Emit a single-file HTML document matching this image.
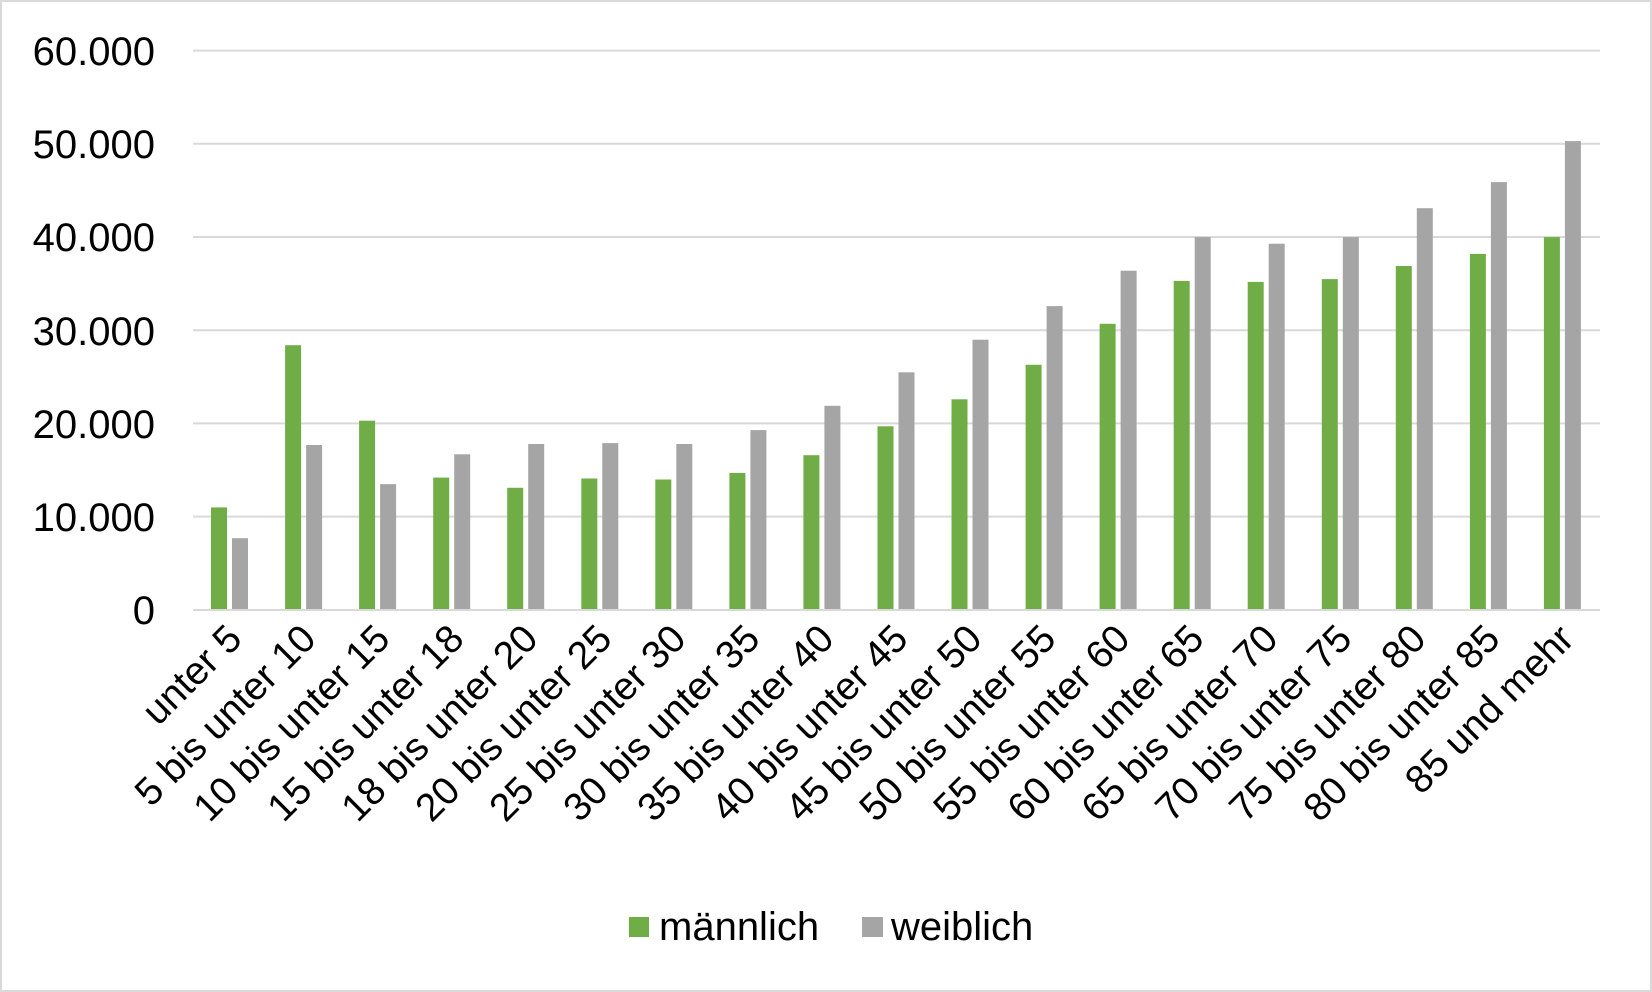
<!DOCTYPE html>
<html><head><meta charset="utf-8"><style>
html,body{margin:0;padding:0;background:#fff;}
svg{display:block;font-family:"Liberation Sans",Arial,sans-serif;}
</style></head><body>
<svg width="1652" height="992" viewBox="0 0 1652 992" xmlns="http://www.w3.org/2000/svg">
<rect x="1" y="1" width="1650" height="990" fill="#fff" stroke="#d9d9d9" stroke-width="2"/>
<g stroke="#d9d9d9" stroke-width="2">
<line x1="193" x2="1600" y1="50.6" y2="50.6"/>
<line x1="193" x2="1600" y1="143.8" y2="143.8"/>
<line x1="193" x2="1600" y1="237" y2="237"/>
<line x1="193" x2="1600" y1="330.2" y2="330.2"/>
<line x1="193" x2="1600" y1="423.4" y2="423.4"/>
<line x1="193" x2="1600" y1="516.6" y2="516.6"/>
<line x1="193" x2="1600" y1="610" y2="610"/>
</g>
<g font-size="40" fill="#000" text-anchor="end">
<text x="155" y="65">60.000</text>
<text x="155" y="158">50.000</text>
<text x="155" y="251">40.000</text>
<text x="155" y="345">30.000</text>
<text x="155" y="438">20.000</text>
<text x="155" y="531">10.000</text>
<text x="155" y="624">0</text>
</g>
<g>
<g transform="translate(230.0,609) scale(1,-1)"><rect x="-19" y="0" width="16" height="101.6" fill="#70ad47"/><rect x="2" y="0" width="16" height="70.8" fill="#a5a5a5"/></g>
<g transform="translate(304.1,609) scale(1,-1)"><rect x="-19" y="0" width="16" height="263.8" fill="#70ad47"/><rect x="2" y="0" width="16" height="164.0" fill="#a5a5a5"/></g>
<g transform="translate(378.1,609) scale(1,-1)"><rect x="-19" y="0" width="16" height="188.3" fill="#70ad47"/><rect x="2" y="0" width="16" height="124.9" fill="#a5a5a5"/></g>
<g transform="translate(452.2,609) scale(1,-1)"><rect x="-19" y="0" width="16" height="131.4" fill="#70ad47"/><rect x="2" y="0" width="16" height="154.7" fill="#a5a5a5"/></g>
<g transform="translate(526.2,609) scale(1,-1)"><rect x="-19" y="0" width="16" height="121.2" fill="#70ad47"/><rect x="2" y="0" width="16" height="165.0" fill="#a5a5a5"/></g>
<g transform="translate(600.3,609) scale(1,-1)"><rect x="-19" y="0" width="16" height="130.5" fill="#70ad47"/><rect x="2" y="0" width="16" height="165.9" fill="#a5a5a5"/></g>
<g transform="translate(674.3,609) scale(1,-1)"><rect x="-19" y="0" width="16" height="129.5" fill="#70ad47"/><rect x="2" y="0" width="16" height="165.0" fill="#a5a5a5"/></g>
<g transform="translate(748.4,609) scale(1,-1)"><rect x="-19" y="0" width="16" height="136.1" fill="#70ad47"/><rect x="2" y="0" width="16" height="178.9" fill="#a5a5a5"/></g>
<g transform="translate(822.4,609) scale(1,-1)"><rect x="-19" y="0" width="16" height="153.8" fill="#70ad47"/><rect x="2" y="0" width="16" height="203.2" fill="#a5a5a5"/></g>
<g transform="translate(896.5,609) scale(1,-1)"><rect x="-19" y="0" width="16" height="182.7" fill="#70ad47"/><rect x="2" y="0" width="16" height="236.7" fill="#a5a5a5"/></g>
<g transform="translate(970.5,609) scale(1,-1)"><rect x="-19" y="0" width="16" height="209.7" fill="#70ad47"/><rect x="2" y="0" width="16" height="269.3" fill="#a5a5a5"/></g>
<g transform="translate(1044.6,609) scale(1,-1)"><rect x="-19" y="0" width="16" height="244.2" fill="#70ad47"/><rect x="2" y="0" width="16" height="302.9" fill="#a5a5a5"/></g>
<g transform="translate(1118.6,609) scale(1,-1)"><rect x="-19" y="0" width="16" height="285.2" fill="#70ad47"/><rect x="2" y="0" width="16" height="338.3" fill="#a5a5a5"/></g>
<g transform="translate(1192.7,609) scale(1,-1)"><rect x="-19" y="0" width="16" height="328.1" fill="#70ad47"/><rect x="2" y="0" width="16" height="371.9" fill="#a5a5a5"/></g>
<g transform="translate(1266.7,609) scale(1,-1)"><rect x="-19" y="0" width="16" height="327.1" fill="#70ad47"/><rect x="2" y="0" width="16" height="365.3" fill="#a5a5a5"/></g>
<g transform="translate(1340.8,609) scale(1,-1)"><rect x="-19" y="0" width="16" height="329.9" fill="#70ad47"/><rect x="2" y="0" width="16" height="371.9" fill="#a5a5a5"/></g>
<g transform="translate(1414.8,609) scale(1,-1)"><rect x="-19" y="0" width="16" height="343.0" fill="#70ad47"/><rect x="2" y="0" width="16" height="400.8" fill="#a5a5a5"/></g>
<g transform="translate(1488.9,609) scale(1,-1)"><rect x="-19" y="0" width="16" height="355.1" fill="#70ad47"/><rect x="2" y="0" width="16" height="426.9" fill="#a5a5a5"/></g>
<g transform="translate(1562.9,609) scale(1,-1)"><rect x="-19" y="0" width="16" height="371.9" fill="#70ad47"/><rect x="2" y="0" width="16" height="467.9" fill="#a5a5a5"/></g>
</g>
<g font-size="39" fill="#000" text-anchor="end">
<text transform="translate(244,641) rotate(-45)">unter 5</text>
<text transform="translate(318,641) rotate(-45)">5 bis unter 10</text>
<text transform="translate(392,641) rotate(-45)">10 bis unter 15</text>
<text transform="translate(466,641) rotate(-45)">15 bis unter 18</text>
<text transform="translate(540,641) rotate(-45)">18 bis unter 20</text>
<text transform="translate(614,641) rotate(-45)">20 bis unter 25</text>
<text transform="translate(688,641) rotate(-45)">25 bis unter 30</text>
<text transform="translate(762,641) rotate(-45)">30 bis unter 35</text>
<text transform="translate(836,641) rotate(-45)">35 bis unter 40</text>
<text transform="translate(910,641) rotate(-45)">40 bis unter 45</text>
<text transform="translate(984,641) rotate(-45)">45 bis unter 50</text>
<text transform="translate(1058,641) rotate(-45)">50 bis unter 55</text>
<text transform="translate(1132,641) rotate(-45)">55 bis unter 60</text>
<text transform="translate(1206,641) rotate(-45)">60 bis unter 65</text>
<text transform="translate(1280,641) rotate(-45)">65 bis unter 70</text>
<text transform="translate(1354,641) rotate(-45)">70 bis unter 75</text>
<text transform="translate(1428,641) rotate(-45)">75 bis unter 80</text>
<text transform="translate(1502,641) rotate(-45)">80 bis unter 85</text>
<text transform="translate(1576,641) rotate(-45)">85 und mehr</text>
</g>
<rect x="629" y="917" width="20" height="20" fill="#70ad47"/>
<text x="659" y="940" font-size="40" fill="#000">männlich</text>
<rect x="862" y="917" width="21" height="20" fill="#a5a5a5"/>
<text x="891" y="940" font-size="40" fill="#000">weiblich</text>
</svg>
</body></html>
